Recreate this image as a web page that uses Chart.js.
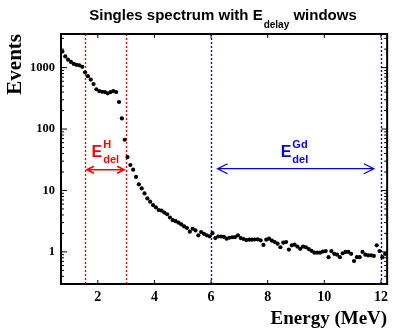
<!DOCTYPE html>
<html>
<head>
<meta charset="utf-8">
<script src="https://cdn.jsdelivr.net/npm/chart.js@4.4.1/dist/chart.umd.min.js"></script>
<style>
  html, body { margin: 0; padding: 0; background: #fff; }
  #wrap { width: 393px; height: 331px; }
</style>
</head>
<body>
<div id="wrap"><canvas id="chart-spectrum"></canvas></div>
<script>
// bin centres (MeV) and counts
const energies = [
  0.75, 0.85, 0.95, 1.05, 1.15, 1.25, 1.35, 1.45, 1.55, 1.65,
  1.75, 1.85, 1.95, 2.05, 2.15, 2.25, 2.35, 2.45, 2.55, 2.65,
  2.75, 2.85, 2.95, 3.05, 3.15, 3.25, 3.35, 3.45, 3.55, 3.65,
  3.75, 3.85, 3.95, 4.05, 4.15, 4.25, 4.35, 4.45, 4.55, 4.65,
  4.75, 4.85, 4.95, 5.05, 5.15, 5.25, 5.35, 5.45, 5.55, 5.65,
  5.75, 5.85, 5.95, 6.05, 6.15, 6.25, 6.35, 6.45, 6.55, 6.65,
  6.75, 6.85, 6.95, 7.05, 7.15, 7.25, 7.35, 7.45, 7.55, 7.65,
  7.75, 7.85, 7.95, 8.05, 8.15, 8.25, 8.35, 8.45, 8.55, 8.65,
  8.75, 8.85, 8.95, 9.05, 9.15, 9.25, 9.35, 9.45, 9.55, 9.65,
  9.75, 9.85, 9.95, 10.05, 10.15, 10.25, 10.35, 10.45, 10.55, 10.65,
  10.75, 10.85, 10.95, 11.05, 11.15, 11.25, 11.35, 11.45, 11.55, 11.65,
  11.75, 11.85, 11.95, 12.05, 12.15
]
const events = [
  1830, 1520, 1350, 1240, 1150, 1110, 1090, 1030, 840, 725,
  640, 540, 445, 415, 405, 400, 382, 400, 415, 400,
  276, 149, 67, 35, 26, 21.8, 16.6, 12.6, 10.8, 8.95,
  7.43, 6.57, 5.79, 5.32, 4.81, 4.71, 4.37, 4.10, 3.63, 3.28,
  3.16, 2.99, 2.80, 2.60, 2.44, 2.13, 2.38, 2.24, 1.86, 2.10,
  1.97, 1.86, 1.79, 2.02, 1.68, 1.78, 1.78, 1.76, 1.64, 1.70,
  1.73, 1.74, 1.86, 1.68, 1.62, 1.56, 1.58, 1.58, 1.59, 1.60,
  1.54, 1.30, 1.58, 1.64, 1.52, 1.45, 1.36, 1.19, 1.41, 1.45,
  1.09, 1.28, 1.31, 1.22, 1.12, 1.22, 1.19, 1.11, 1.04, 0.97,
  0.97, 0.97, 1.01, 1.03, 0.82, 1.03, 0.93, 0.90, 0.82, 0.95,
  1.00, 1.00, 0.93, 0.71, 0.82, 0.82, 1.00, 0.90, 0.88, 0.88,
  0.86, 1.28, 1.03, 0.82, 0.93
]
const xTicks = [2, 4, 6, 8, 10, 12]
const yTicks = [1, 10, 100, 1000]

// delayed-energy windows (MeV)
const hWindow = [1.55, 3.0]
const gdWindow = [6.0, 12.0]

const serif = "'Liberation Serif', 'DejaVu Serif', serif"
const sans = "'Liberation Sans', Arial, sans-serif"

function drawArrow(ctx, x1, x2, y, head, half) {
  ctx.beginPath()
  ctx.moveTo(x1, y); ctx.lineTo(x2, y)
  ctx.moveTo(x1 + head, y - half); ctx.lineTo(x1, y); ctx.lineTo(x1 + head, y + half)
  ctx.moveTo(x2 - head, y - half); ctx.lineTo(x2, y); ctx.lineTo(x2 - head, y + half)
  ctx.stroke()
}

function drawLabel(ctx, x, y, sup, color) {
  ctx.fillStyle = color
  ctx.textAlign = "left"
  ctx.textBaseline = "alphabetic"
  ctx.font = "bold 16px " + sans
  ctx.fillText("E", x, y)
  const w = ctx.measureText("E").width
  ctx.font = "bold 11px " + sans
  ctx.fillText(sup, x + w + 1, y - 9)
  ctx.fillText("del", x + w + 1, y + 6)
}

const rootStyle = {
  id: "rootStyle",
  beforeDatasetsDraw(chart) {
    const { ctx, chartArea: a, scales: { x } } = chart
    ctx.save()
    ctx.lineWidth = 1.4
    ctx.setLineDash([2, 2])
    const lines = [[hWindow, "#ff0000"], [gdWindow, "#0000ff"]]
    lines.forEach(([win, color]) => {
      ctx.strokeStyle = color
      win.forEach(v => {
        const px = Math.round(x.getPixelForValue(v)) + 0.5
        ctx.beginPath(); ctx.moveTo(px, a.top); ctx.lineTo(px, a.bottom); ctx.stroke()
      })
    })
    ctx.restore()
  },
  afterDraw(chart) {
    const { ctx, chartArea: a, scales: { x, y } } = chart
    ctx.save()

    // frame
    ctx.strokeStyle = "#000"
    ctx.lineWidth = 2
    ctx.strokeRect(a.left, a.top, a.right - a.left, a.bottom - a.top)

    // inward ticks
    ctx.lineWidth = 1
    ctx.beginPath()
    xTicks.forEach(v => {
      const px = x.getPixelForValue(v)
      ctx.moveTo(px, a.bottom); ctx.lineTo(px, a.bottom - 4)
      ctx.moveTo(px, a.top); ctx.lineTo(px, a.top + 4)
    })
    for (let d = 0.1; d <= 1000; d *= 10) {
      for (let m = 1; m <= 9; m++) {
        const v = d * m
        if (v < y.min || v > y.max) continue
        const py = y.getPixelForValue(v)
        const len = m === 1 ? 6 : 3
        ctx.moveTo(a.left, py); ctx.lineTo(a.left + len, py)
        ctx.moveTo(a.right, py); ctx.lineTo(a.right - len, py)
      }
    }
    ctx.stroke()

    // window arrows
    ctx.lineWidth = 1.6
    ctx.strokeStyle = "#ff0000"
    drawArrow(ctx, x.getPixelForValue(1.615), x.getPixelForValue(2.93), y.getPixelForValue(21.8), 7, 3.5)
    ctx.lineWidth = 1.3
    ctx.strokeStyle = "#0000ff"
    drawArrow(ctx, x.getPixelForValue(6.23), x.getPixelForValue(11.75), y.getPixelForValue(22.6), 10, 5)

    drawLabel(ctx, x.getPixelForValue(1.78), y.getPixelForValue(35), "H", "#ff0000")
    drawLabel(ctx, x.getPixelForValue(8.46), y.getPixelForValue(35), "Gd", "#0000ff")

    // title with subscript
    ctx.fillStyle = "#000"
    ctx.textBaseline = "alphabetic"
    ctx.textAlign = "left"
    const t1 = "Singles spectrum with E", sub = "delay", t2 = " windows"
    ctx.font = "bold 15px " + sans
    const w1 = ctx.measureText(t1).width, w2 = ctx.measureText(t2).width
    ctx.font = "bold 10px " + sans
    const ws = ctx.measureText(sub).width
    let tx = 223 - (w1 + ws + w2 + 1) / 2
    ctx.font = "bold 15px " + sans
    ctx.fillText(t1, tx, 20)
    tx += w1 + 1
    ctx.font = "bold 10px " + sans
    ctx.fillText(sub, tx, 27.5)
    tx += ws
    ctx.font = "bold 15px " + sans
    ctx.fillText(t2, tx, 20)

    ctx.restore()
  }
}

new Chart(document.getElementById("chart-spectrum"), {
  type: "scatter",
  data: {
    datasets: [{
      data: energies.map((e, i) => ({ x: e, y: events[i] })),
      backgroundColor: "#000",
      borderWidth: 0,
      pointRadius: 2.1
    }]
  },
  options: {
    responsive: true,
    maintainAspectRatio: false,
    animation: false,
    devicePixelRatio: 1,
    layout: { padding: { top: 34, right: 2, left: 0, bottom: 0 } },
    plugins: { legend: { display: false }, tooltip: { enabled: false } },
    scales: {
      x: {
        type: "linear",
        min: 0.7,
        max: 12.22,
        afterBuildTicks: s => { s.ticks = xTicks.map(v => ({ value: v })) },
        afterFit: s => { s.height = 47 },
        grid: { display: false, drawTicks: false },
        border: { display: false },
        ticks: {
          autoSkip: false, maxRotation: 0, padding: 5, color: "#000",
          font: { family: serif, weight: "bold", size: 14 }
        },
        title: {
          display: true, text: "Energy (MeV)", align: "end", color: "#000",
          font: { family: serif, weight: "bold", size: 19, lineHeight: 1 },
          padding: { top: 0, bottom: 2 }
        }
      },
      y: {
        type: "logarithmic",
        min: 0.328,
        max: 3530,
        afterBuildTicks: s => { s.ticks = yTicks.map(v => ({ value: v })) },
        afterFit: s => { s.width = 61 },
        grid: { display: false, drawTicks: false },
        border: { display: false },
        ticks: {
          autoSkip: false, padding: 6, color: "#000",
          callback: v => String(v),
          font: { family: serif, weight: "bold", size: 12.5 }
        },
        title: {
          display: true, text: "Events", align: "end", color: "#000",
          font: { family: serif, weight: "bold", size: 21, lineHeight: 1 },
          padding: { top: 5, bottom: 0 }
        }
      }
    }
  },
  plugins: [rootStyle]
})
</script>
</body>
</html>
